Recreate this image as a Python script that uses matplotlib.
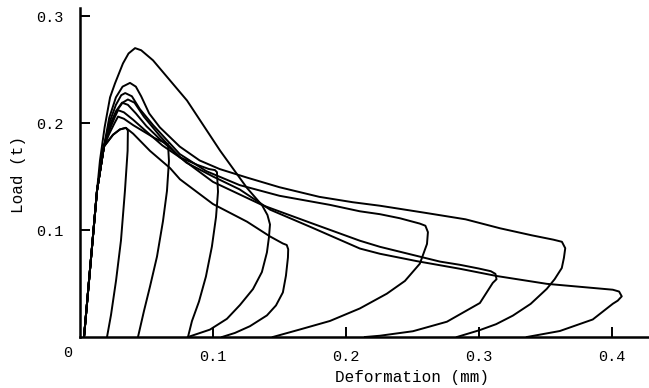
#plot.py
#load - deformation curves of the specimens (loading, softening, unloading)
import matplotlib
matplotlib.use("Agg")
import matplotlib.pyplot as plt

plt.rcParams['font.family'] = ['Liberation Mono', 'DejaVu Sans Mono']

#deformation (mm) and load (t), one pair per specimen
def_a = [0.003, 0.0128, 0.015, 0.0185, 0.0226, 0.0263, 0.0323, 0.0365, 0.0414, 0.046, 0.0549,
         0.0805, 0.1053, 0.1256, 0.137, 0.141, 0.1429, 0.1421, 0.1406, 0.1368, 0.1301, 0.1203,
         0.1105, 0.0977, 0.0812]
load_a = [0.0, 0.137, 0.165, 0.196, 0.224, 0.237, 0.2557, 0.265, 0.270, 0.268, 0.2586,
          0.221, 0.1743, 0.1393, 0.123, 0.114, 0.1052, 0.0931, 0.0791, 0.0607, 0.0448, 0.0299,
          0.0170, 0.0069, 0.0]

def_b = [0.003, 0.0128, 0.018, 0.022, 0.027, 0.032, 0.0376, 0.042, 0.046, 0.052, 0.060, 0.075,
         0.090, 0.105, 0.1256, 0.150, 0.180, 0.205, 0.2256, 0.260, 0.290, 0.316, 0.340, 0.356,
         0.3625, 0.365, 0.364, 0.3624, 0.357, 0.3511, 0.339, 0.3256, 0.313, 0.3008, 0.2835]
load_b = [0.0, 0.137, 0.178, 0.205, 0.224, 0.234, 0.2375, 0.234, 0.225, 0.209, 0.196, 0.178,
          0.165, 0.157, 0.149, 0.140, 0.131, 0.126, 0.1227, 0.116, 0.110, 0.1016, 0.095, 0.091,
          0.089, 0.083, 0.074, 0.0645, 0.054, 0.045, 0.031, 0.020, 0.012, 0.0065, 0.0]

def_c = [0.003, 0.0128, 0.018, 0.022, 0.027, 0.031, 0.034, 0.039, 0.045, 0.055, 0.075, 0.095,
         0.120, 0.150, 0.188, 0.2105, 0.2256, 0.2406, 0.2556, 0.2598, 0.2617, 0.261, 0.2556,
         0.2444, 0.2308, 0.2105, 0.188, 0.165, 0.145]
load_c = [0.0, 0.137, 0.178, 0.200, 0.217, 0.226, 0.228, 0.225, 0.213, 0.198, 0.171, 0.155,
          0.142, 0.132, 0.1235, 0.1175, 0.1148, 0.111, 0.106, 0.104, 0.098, 0.087, 0.0685,
          0.0524, 0.0405, 0.0267, 0.015, 0.0069, 0.0]

def_d = [0.003, 0.0128, 0.018, 0.022, 0.027, 0.0316, 0.036, 0.042, 0.050, 0.060, 0.080, 0.100,
         0.120, 0.143, 0.175, 0.2105, 0.2256, 0.2534, 0.2857, 0.3135, 0.3511, 0.4008, 0.4055,
         0.4075, 0.4045, 0.4008, 0.3857, 0.3609, 0.3361]
load_d = [0.0, 0.137, 0.178, 0.196, 0.211, 0.219, 0.217, 0.209, 0.197, 0.185, 0.163, 0.150,
          0.138, 0.119, 0.102, 0.0827, 0.0778, 0.0709, 0.0638, 0.057, 0.0497, 0.0442, 0.0425,
          0.038, 0.034, 0.0311, 0.0164, 0.0056, 0.0]

def_e = [0.003, 0.0128, 0.018, 0.022, 0.026, 0.0286, 0.033, 0.040, 0.050, 0.062, 0.075, 0.088,
         0.097, 0.1015, 0.103, 0.1038, 0.1023, 0.0992, 0.0947, 0.0895, 0.0842, 0.0812]
load_e = [0.0, 0.137, 0.178, 0.193, 0.205, 0.212, 0.210, 0.203, 0.192, 0.179, 0.168, 0.161,
          0.157, 0.156, 0.1541, 0.1358, 0.1121, 0.0845, 0.0565, 0.0332, 0.0149, 0.0]

def_f = [0.003, 0.0128, 0.018, 0.022, 0.026, 0.0286, 0.033, 0.040, 0.048, 0.056, 0.063, 0.0662,
         0.0669, 0.0654, 0.0624, 0.0579, 0.0526, 0.0481, 0.0436]
load_f = [0.0, 0.137, 0.178, 0.190, 0.200, 0.206, 0.204, 0.198, 0.192, 0.186, 0.182, 0.1803,
          0.1644, 0.1365, 0.1083, 0.0752, 0.0470, 0.0243, 0.0]

def_g = [0.003, 0.0128, 0.018, 0.0248, 0.030, 0.0345, 0.036, 0.0358, 0.0338, 0.0308, 0.0271,
         0.0233, 0.0203]
load_g = [0.0, 0.137, 0.178, 0.189, 0.194, 0.1955, 0.193, 0.174, 0.1368, 0.0902, 0.0528,
          0.0206, 0.0]

def_h = [0.003, 0.0128, 0.018, 0.0248, 0.030, 0.0345, 0.040, 0.0526, 0.0677, 0.0752, 0.100,
         0.1256, 0.1429, 0.1526, 0.1555, 0.1566, 0.1564, 0.1549, 0.1526, 0.1474, 0.1406, 0.1278,
         0.1165, 0.1068]
load_h = [0.0, 0.137, 0.178, 0.189, 0.194, 0.1955, 0.190, 0.174, 0.1579, 0.1474, 0.1243,
          0.1078, 0.094, 0.0874, 0.086, 0.082, 0.0743, 0.0573, 0.0417, 0.0295, 0.0202, 0.0101,
          0.0038, 0.0]

def_i = [0.003, 0.0128, 0.018, 0.022, 0.028, 0.032, 0.036, 0.041, 0.048, 0.060, 0.075, 0.100,
         0.1376, 0.175, 0.2105, 0.2256, 0.2707, 0.2857, 0.300, 0.309, 0.3125, 0.3133, 0.3105,
         0.3008, 0.276, 0.2504, 0.2256, 0.2143]
load_i = [0.0, 0.137, 0.178, 0.197, 0.212, 0.219, 0.222, 0.219, 0.206, 0.188, 0.168, 0.145,
          0.123, 0.106, 0.090, 0.0843, 0.0705, 0.0675, 0.064, 0.0615, 0.059, 0.054, 0.0506,
          0.0318, 0.0143, 0.0054, 0.0012, 0.0]

x_ticks = [0.1, 0.2, 0.3, 0.4]
x_labels = ["0.1", "0.2", "0.3", "0.4"]
y_ticks = [0.1, 0.2, 0.3]
y_labels = ["0.1", "0.2", "0.3"]

curves = [(def_a, load_a), (def_b, load_b), (def_c, load_c), (def_d, load_d), (def_e, load_e),
          (def_f, load_f), (def_g, load_g), (def_h, load_h), (def_i, load_i)]

fig = plt.figure(figsize=(6.49, 3.88), dpi=100)
ax = fig.add_axes([0.1233, 0.1314, 0.8767, 0.848])

for d, l in curves:
    ax.plot(d, l, color="black", lw=1.4, solid_joinstyle="round")

ax.set_xlim(0, 0.428)
ax.set_ylim(0, 0.3075)

#only the left and bottom axes, ticks pointing inside
for s in ["top", "right"]:
    ax.spines[s].set_visible(False)
for s in ["left", "bottom"]:
    ax.spines[s].set_linewidth(1.8)

ax.set_xticks(x_ticks)
ax.set_xticklabels(x_labels)
ax.set_yticks(y_ticks)
ax.set_yticklabels(y_labels)
ax.tick_params(direction="in", length=7, width=1.4, labelsize=11)
ax.tick_params(axis="x", pad=9)
ax.tick_params(axis="y", pad=12)

ax.text(-0.021, -0.048, "0", transform=ax.transAxes, ha="center", va="center", fontsize=11)

ax.set_xlabel("Deformation (mm)", fontsize=11.5)
ax.set_ylabel("Load (t)", fontsize=11.5)
ax.yaxis.label.set(va="center", ha="center")
ax.xaxis.set_label_coords(0.583, -0.1)
ax.yaxis.set_label_coords(-0.109, 0.495)

fig.savefig("out.png", dpi=100)
